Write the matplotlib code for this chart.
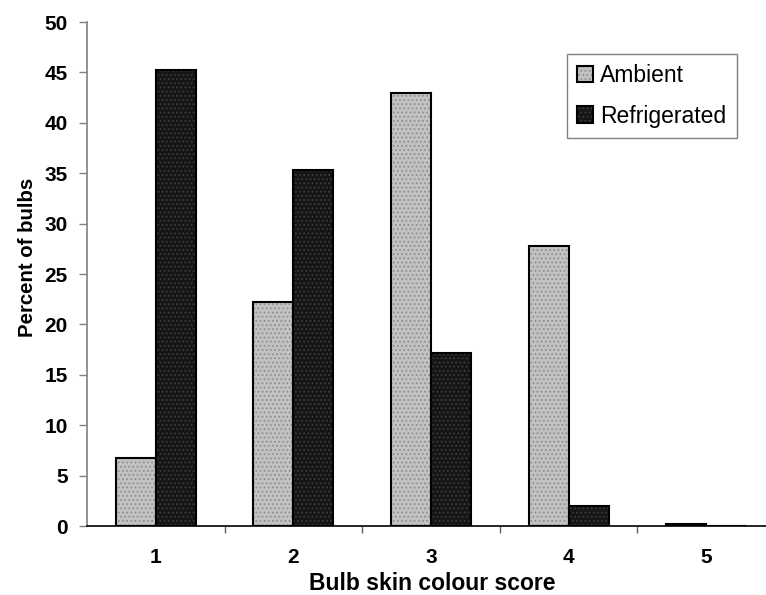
import numpy as np
import matplotlib
matplotlib.use("Agg")
import matplotlib.pyplot as plt

plt.rcParams['font.family'] = ['Liberation Sans', 'DejaVu Sans']
plt.rcParams['hatch.linewidth'] = 0.8

# data
scores = ['1', '2', '3', '4', '5']
ambient = [6.7, 22.2, 43.0, 27.8, 0.2]
refrigerated = [45.2, 35.3, 17.2, 2.0, 0.0]
series_names = ['Ambient', 'Refrigerated']

fig = plt.figure(figsize=(7.66, 5.95), dpi=100)
ax = fig.add_axes([87/766, 1-526/595, (775-87)/766, (526-22)/595])

x = np.arange(1, len(scores) + 1)
w = 0.29

# fill + dotted pattern first, then black outline on top
amb_fill = ax.bar(x - w/2, ambient, w, color='#c2c2c2', edgecolor='#8f8f8f',
                  hatch='....', linewidth=0)
amb_edge = ax.bar(x - w/2, ambient, w, fill=False, edgecolor='black', linewidth=1.5)
ref_fill = ax.bar(x + w/2, refrigerated, w, color='#151515', edgecolor='#3c3c3c',
                  hatch='....', linewidth=0)
ref_edge = ax.bar(x + w/2, refrigerated, w, fill=False, edgecolor='black', linewidth=1.5)

ax.set_xlim(0.5, 5.5)
ax.set_ylim(0, 50)
ax.set_yticks(np.arange(0, 51, 5))
ax.set_xticks(x)
ax.set_xticklabels(scores)
ax.set_xticks(np.arange(1.5, 5.0, 1), minor=True)

for s in ['top', 'right']:
    ax.spines[s].set_visible(False)
ax.spines['left'].set_color('#808080')
ax.spines['bottom'].set_color('black')
ax.spines['left'].set_linewidth(1.2)
ax.spines['bottom'].set_linewidth(1.2)

ax.tick_params(axis='y', direction='out', length=6, color='#808080', width=1,
               labelsize=15, pad=8)
ax.tick_params(axis='x', which='major', length=0, labelsize=15, pad=16)
ax.tick_params(axis='x', which='minor', direction='out', length=5, color='#606060', width=1)
for lab in ax.get_xticklabels() + ax.get_yticklabels():
    lab.set_fontweight('bold')

# axis titles placed where the reference has them
fig.text(28/766, 1-257/595, 'Percent of bulbs', rotation=90, ha='center', va='center',
         fontsize=14.7, fontweight='bold')
fig.text(432/766, 1-584/595, 'Bulb skin colour score', ha='center', va='center',
         fontsize=16.5, fontweight='bold')

leg = ax.legend([(amb_fill[0], amb_edge[0]), (ref_fill[0], ref_edge[0])], series_names,
                loc='upper left', bbox_to_anchor=(567/766, 1-54/595),
                bbox_transform=fig.transFigure, fontsize=16.5,
                handlelength=0.7, handleheight=0.7, handletextpad=0.3,
                labelspacing=0.75, borderpad=0.45, borderaxespad=0,
                fancybox=False, framealpha=1, edgecolor='#808080')
leg.get_frame().set_linewidth(1.0)

fig.savefig('out.png', dpi=100)
